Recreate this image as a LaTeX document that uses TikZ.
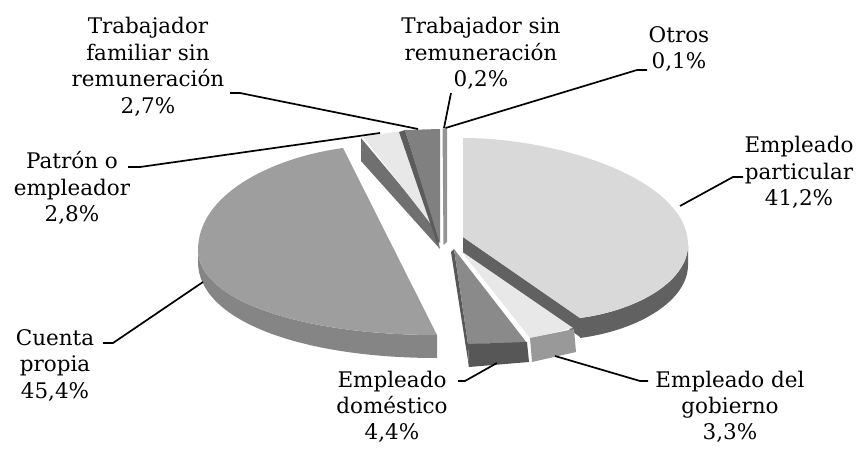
\documentclass[tikz,border=0pt]{standalone}
\usepackage{fontspec}
\setmainfont{DejaVu Serif}
\begin{document}
\begin{tikzpicture}[x=1pt,y=-1pt,
  lbl/.style={font=\fontsize{21.5}{26.8}\selectfont, align=center, inner sep=0pt, anchor=north},
  lblb/.style={font=\fontsize{21.5}{25.8}\selectfont, align=center, inner sep=0pt, anchor=north},
  leader/.style={draw=black, line width=1.7pt},
  eptop/.style={fill=black!15}, epside/.style={fill=black!62},
  cptop/.style={fill=black!38}, cpside/.style={fill=black!48},
  patop/.style={fill=black!9}, paside/.style={fill=black!56},
  tftop/.style={fill=black!50}, tfside/.style={fill=black!64},
  tsrfill/.style={fill=black!42},
  edtop/.style={fill=black!46}, edside/.style={fill=black!66},
  egtop/.style={fill=black!9}, egside/.style={fill=black!40}]
\useasboundingbox (0,0) rectangle (859,449);

% ---------- small slices at the top ----------
% Patron o empleador
\fill[paside] (361,138) -- (436,228) -- (440,249) -- (361,161) -- cycle;
\fill[patop] (363,136.5) -- (399,131.5) -- (437,232) -- cycle;
% Trabajador familiar sin remuneracion
\fill[tfside] (399,132) -- (405,130) -- (440,241) -- (437,243) -- cycle;
\fill[tftop] (405,130) -- (440,129) -- (440,244) -- cycle;
% Trabajador sin remuneracion / Otros
\fill[tsrfill] (442.5,128.5) -- (447,128.5) -- (447,242) -- (443.5,245) -- cycle;

% ---------- Cuenta propia ----------
\fill[cpside] (198,250) .. controls (198,300) and (300,335) .. (437,335)
  -- (437,358) .. controls (300,358) and (198,320) .. (198,262) -- cycle;
\fill[cptop] (343,148) .. controls (270,158) and (198,195) .. (198,250)
  .. controls (198,300) and (300,335) .. (437,335) -- cycle;

% ---------- Empleado particular ----------
\fill[epside] (463,237) -- (580,318) -- (580,337) -- (463,253) -- cycle;
\fill[epside] (688,245) .. controls (688,280) and (640,310) .. (580,318)
  -- (580,338) .. controls (640,330) and (688,300) .. (688,265) -- cycle;
\fill[eptop] (463,138) .. controls (560,138) and (688,180) .. (688,245)
  .. controls (688,280) and (640,310) .. (580,318) -- (463,237) -- cycle;

% ---------- Empleado domestico ----------
\fill[edside] (451,252) -- (454,249) -- (468,344) -- (469,367) -- cycle;
\fill[edtop] (454,249) -- (527,343) -- (468,344) -- cycle;
\fill[edside] (468,344) -- (527,342) -- (529,362) -- (469,367) -- cycle;

% ---------- Empleado del gobierno ----------
\fill[egtop] (461,251) -- (573,328) -- (530,338) -- cycle;
\fill[egside] (530,338) -- (574,329) -- (576,352) -- (532,362) -- cycle;

% ---------- labels ----------
\node[lbl] (tf) at (148,16.7) {Trabajador\\familiar sin\\remuneración\\2,7\%};
\node[lbl] (tsr) at (481,16.7) {Trabajador sin\\remuneración\\0,2\%};
\node[lbl] (ot) at (679,26) {Otros\\0,1\%};
\node[lbl] (ep) at (799,135.7) {Empleado\\particular\\41,2\%};
\node[lbl] (pa) at (72,151) {Patrón o\\empleador\\2,8\%};
\node[lbl] (cp) at (55,329) {Cuenta\\propia\\45,4\%};
\node[lblb] (ed) at (392,371) {Empleado\\doméstico\\4,4\%};
\node[lblb] (eg) at (730,371) {Empleado del\\gobierno\\3,3\%};

% ---------- leader coordinates ----------
\coordinate (tfA) at (230,93);  \coordinate (tfB) at (240,93);  \coordinate (tfC) at (418,129);
\coordinate (tsrA) at (451,93); \coordinate (tsrC) at (444,128);
\coordinate (otA) at (647,70);  \coordinate (otB) at (637,70);  \coordinate (otC) at (445.5,128);
\coordinate (epA) at (743,177); \coordinate (epB) at (733,177); \coordinate (epC) at (680,206);
\coordinate (paA) at (128,167); \coordinate (paB) at (140,167); \coordinate (paC) at (380,133);
\coordinate (cpA) at (103,343); \coordinate (cpB) at (113,343); \coordinate (cpC) at (203,282);
\coordinate (edA) at (458,381); \coordinate (edB) at (465,381); \coordinate (edC) at (497,363);
\coordinate (egA) at (648,381); \coordinate (egB) at (640,381); \coordinate (egC) at (555,356);

\draw[leader] (tfA) -- (tfB) -- (tfC);
\draw[leader] (tsrA) -- (tsrC);
\draw[leader] (otA) -- (otB) -- (otC);
\draw[leader] (epA) -- (epB) -- (epC);
\draw[leader] (paA) -- (paB) -- (paC);
\draw[leader] (cpA) -- (cpB) -- (cpC);
\draw[leader] (edA) -- (edB) -- (edC);
\draw[leader] (egA) -- (egB) -- (egC);
\end{tikzpicture}
\end{document}
